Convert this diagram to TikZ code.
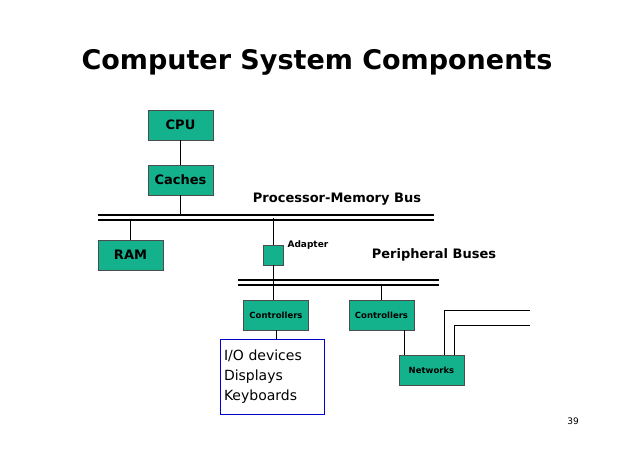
\documentclass[tikz,border=0pt]{standalone}
\usepackage{fontspec}
\setmainfont{DejaVu Sans}
\usetikzlibrary{positioning}
\definecolor{boxgreen}{RGB}{20,178,140}
\tikzset{
  unit/.style={draw=black!70, fill=boxgreen, minimum width=65pt, minimum height=30pt, inner sep=0pt, font=\bfseries},
  bus/.style={line width=1.2pt},
}
\begin{document}
\begin{tikzpicture}[x=1pt,y=-1pt]
\useasboundingbox (0,0) rectangle (638,451);
\node[font=\bfseries\fontsize{27}{30}\selectfont] (title) at (317,62) {Computer System Components};

\node[unit, font=\bfseries\fontsize{13}{15}\selectfont] (cpu) at (180.5,125) {CPU};
\node[unit, font=\bfseries\fontsize{13}{15}\selectfont] (caches) at (180.5,180) {Caches};
\node[unit, font=\bfseries\fontsize{13}{15}\selectfont] (ram) at (130.5,255) {RAM};
\node[unit, minimum width=20pt, minimum height=20pt] (adapter) at (273.5,255) {};
\node[unit, font=\bfseries\fontsize{8.5}{10}\selectfont] (ctrlA) at (276,315) {Controllers};
\node[unit, font=\bfseries\fontsize{8.5}{10}\selectfont] (ctrlB) at (381.5,315) {Controllers};
\node[unit, font=\bfseries\fontsize{8.5}{10}\selectfont] (net) at (431.5,370) {Networks};
\node[draw=blue!80!black, line width=1pt, minimum width=104pt, minimum height=75pt, align=left, font=\fontsize{14}{20}\selectfont, inner sep=0pt, text width=96pt] (io) at (272,376.5) {I/O devices\\Displays\\Keyboards};

% buses
\draw[bus] (98,215) -- (434,215);
\draw[bus] (98,220) -- (434,220);
\draw[bus] (238,280) -- (439,280);
\draw[bus] (238,285) -- (439,285);
\node[font=\bfseries\fontsize{13}{15}\selectfont] (pmbus) at (337,199) {Processor-Memory Bus};
\node[font=\bfseries\fontsize{13}{15}\selectfont] (pbus) at (434,255) {Peripheral Buses};
\node[font=\bfseries\fontsize{9}{10}\selectfont, anchor=west] (adlabel) at (284,245) {Adapter};

% links
\draw (cpu) -- (caches);
\draw (caches.south) -- ++(0,20);
\draw (ram.north) -- ++(0,-20);
\draw (adapter.north) -- ++(0,-27);
\draw (adapter.south) -- (adapter.south |- ctrlA.north);
\draw (ctrlB.north) -- ++(0,-15);
\draw (ctrlA.south) -- (ctrlA.south |- io.north);
\draw (ctrlB.south -| 404,0) -- (404,355);
\coordinate (n1) at (530,310);
\coordinate (n2) at (530,325);
\draw (444,355) -- (444,310) -- (n1);
\draw (454,355) -- (454,325) -- (n2);

\node[font=\fontsize{9}{10}\selectfont\rmfamily] (page) at (573,421) {39};
\end{tikzpicture}
\end{document}
